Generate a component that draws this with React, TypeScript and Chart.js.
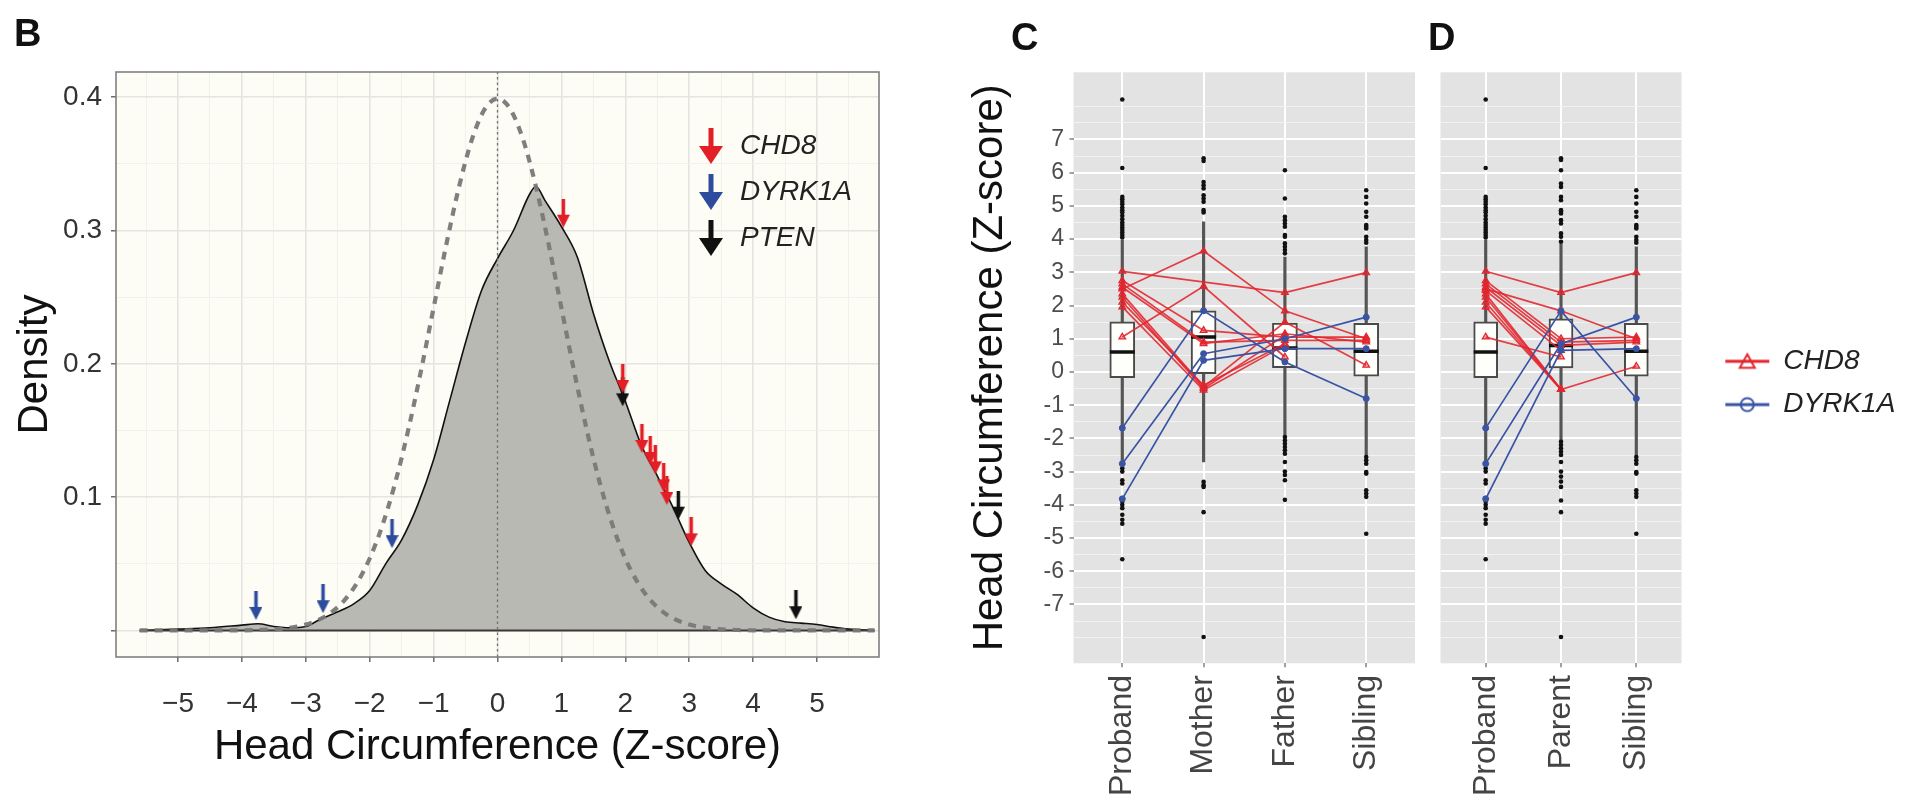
import React, { useEffect, useRef } from 'react';
import { Chart, registerables } from 'chart.js';

Chart.register(...registerables);

const FONT = "'Liberation Sans', Arial, Helvetica, sans-serif";

// ---------------- Panel B : density ----------------
const densityZ = [-5.6, -5.0, -4.5, -4.0, -3.75, -3.5, -3.25, -3.0, -2.75, -2.5, -2.25, -2.0, -1.75, -1.5, -1.25, -1.0, -0.75, -0.5, -0.25, 0, 0.25, 0.5, 0.6, 0.75, 1.0, 1.25, 1.5, 1.75, 2.0, 2.25, 2.5, 2.75, 3.0, 3.25, 3.5, 3.75, 4.0, 4.25, 4.5, 4.75, 5.0, 5.25, 5.5, 5.9];
const densityY = [0, 0.001, 0.002, 0.004, 0.005, 0.003, 0.002, 0.003, 0.009, 0.014, 0.020, 0.030, 0.050, 0.068, 0.094, 0.128, 0.172, 0.216, 0.255, 0.279, 0.300, 0.327, 0.333, 0.322, 0.303, 0.280, 0.238, 0.202, 0.172, 0.139, 0.116, 0.092, 0.066, 0.045, 0.035, 0.027, 0.017, 0.010, 0.0065, 0.0055, 0.0045, 0.0025, 0.001, 0];

const normalZ = [-5.6, -4.0, -3.8, -3.6, -3.4, -3.2, -3.0, -2.8, -2.6, -2.4, -2.2, -2.0, -1.8, -1.6, -1.4, -1.2, -1.0, -0.8, -0.6, -0.4, -0.2, 0, 0.2, 0.4, 0.6, 0.8, 1.0, 1.2, 1.4, 1.6, 1.8, 2.0, 2.2, 2.4, 2.6, 2.8, 3.0, 3.2, 3.4, 3.6, 3.8, 4.0, 5.9];
const normalY = [0, 0.0001, 0.0003, 0.0006, 0.0012, 0.0024, 0.0044, 0.0079, 0.0136, 0.0224, 0.0355, 0.0540, 0.0790, 0.1109, 0.1497, 0.1942, 0.2420, 0.2897, 0.3332, 0.3683, 0.3910, 0.3989, 0.3910, 0.3683, 0.3332, 0.2897, 0.2420, 0.1942, 0.1497, 0.1109, 0.0790, 0.0540, 0.0355, 0.0224, 0.0136, 0.0079, 0.0044, 0.0024, 0.0012, 0.0006, 0.0003, 0.0001, 0];

const chd8ArrowZ = [1.03, 1.96, 2.26, 2.39, 2.47, 2.60, 2.65, 3.03];
const chd8ArrowD = [0.313, 0.189, 0.144, 0.135, 0.128, 0.1145, 0.105, 0.074];
const dyrk1aArrowZ = [-3.78, -2.73, -1.65];
const dyrk1aArrowD = [0.0188, 0.0238, 0.0726];
const ptenArrowZ = [1.96, 2.83, 4.67];
const ptenArrowD = [0.179, 0.094, 0.0193];

const legendB = ['CHD8', 'DYRK1A', 'PTEN'];
const B_X_TICKS = [-5.5, -5, -4.5, -4, -3.5, -3, -2.5, -2, -1.5, -1, -0.5, 0, 0.5, 1, 1.5, 2, 2.5, 3, 3.5, 4, 4.5, 5, 5.5];
const B_Y_TICKS = [0, 0.05, 0.1, 0.15, 0.2, 0.25, 0.3, 0.35, 0.4];
const B_X_MIN = -5.97, B_X_MAX = 5.97;
const B_Y_MIN = -0.0199, B_Y_MAX = 0.4189;

// ---------------- Panels C / D : box plots ----------------
const catsC = ['Proband', 'Mother', 'Father', 'Sibling'];
const catsD = ['Proband', 'Parent', 'Sibling'];
// [whisker low, q1, median, q3, whisker high]
const boxProband = [-2.8, -0.17, 0.60, 1.51, 3.97];
const boxMother = [-2.71, -0.05, 1.05, 1.84, 4.52];
const boxFather = [-1.91, 0.13, 0.72, 1.47, 3.46];
const boxSibling = [-2.51, -0.13, 0.62, 1.46, 3.77];
const boxParent = [-2.06, 0.12, 0.80, 1.60, 3.85];

const outProband = [8.2, 6.14, 5.27, 5.2, 5.12, 5.05, 4.95, 4.87, 4.8, 4.7, 4.6, 4.5, 4.42, 4.35, 4.27, 4.2, 4.12, 4.05, -2.9, -3.0, -3.26, -3.36, -3.8, -3.9, -4.0, -4.1, -4.3, -4.45, -4.57, -5.64];
const outMother = [6.43, 6.35, 5.72, 5.62, 5.52, 5.32, 5.22, 5.12, 4.87, 4.8, -3.31, -3.41, -3.46, -4.22, -7.98];
const outFather = [6.07, 5.22, 4.67, 4.57, 4.47, 4.37, 4.12, 4.07, 3.87, 3.77, 3.67, 3.57, -1.96, -2.06, -2.16, -2.26, -2.36, -2.46, -2.71, -3.0, -3.1, -3.26, -3.85];
const outSibling = [5.47, 5.27, 5.07, 4.82, 4.67, 4.42, 4.37, 4.32, 4.07, 3.97, 3.89, -2.56, -2.66, -2.76, -3.01, -3.06, -3.56, -3.66, -3.76, -4.87];
const outParent = [6.43, 6.38, 6.07, 5.67, 5.57, 5.27, 5.17, 4.87, 4.82, 4.77, 4.57, 4.47, 4.17, 4.07, 3.92, -2.1, -2.2, -2.3, -2.4, -2.5, -2.71, -3.0, -3.15, -3.3, -3.46, -3.87, -4.22, -7.98];

// families: Proband, Mother, Father, Sibling (null = missing)
const chd8FamiliesC = [
  [3.03, null, 2.39, 2.99],
  [2.50, 3.64, 1.84, 1.00],
  [1.05, 2.58, 0.45, null],
  [2.75, 1.25, 1.05, 1.05],
  [2.65, 0.90, 0.95, 0.95],
  [2.55, 0.85, 1.15, 0.90],
  [2.35, -0.45, 1.50, 0.20],
  [2.25, -0.50, 1.10, null],
  [2.10, -0.40, 0.85, null],
  [1.96, -0.55, 0.80, null],
];
const dyrk1aFamiliesC = [
  [-1.69, 1.84, 0.30, -0.80],
  [-2.76, 0.55, 1.00, 1.65],
  [-3.82, 0.35, 0.70, 0.70],
];
// families: Proband, Parent, Sibling
const chd8FamiliesD = [
  [3.03, 2.39, 2.99],
  [2.50, 1.84, 1.00],
  [2.75, 1.00, 1.05],
  [2.65, 0.90, 0.95],
  [2.55, 0.80, 0.90],
  [1.05, 0.45, null],
  [2.45, 0.65, null],
  [2.35, -0.53, 0.17],
  [2.25, -0.53, null],
  [2.10, -0.53, null],
  [1.96, -0.53, null],
];
const dyrk1aFamiliesD = [
  [-1.69, 1.84, -0.80],
  [-2.76, 0.85, 1.65],
  [-3.82, 0.65, 0.70],
];

const legendCD = ['CHD8', 'DYRK1A'];
const C_Y_GRID = [-8, -7.5, -7, -6.5, -6, -5.5, -5, -4.5, -4, -3.5, -3, -2.5, -2, -1.5, -1, -0.5, 0, 0.5, 1, 1.5, 2, 2.5, 3, 3.5, 4, 4.5, 5, 5.5, 6, 6.5, 7, 7.5, 8];
const C_Y_LABELS = [-7, -6, -5, -4, -3, -2, -1, 0, 1, 2, 3, 4, 5, 6, 7];
const C_Y_MIN = -8.77, C_Y_MAX = 9.02;

// ---------------- styling ----------------
const RED = '#E3262E';
const RED_LINE = 'rgba(227, 38, 46, 0.88)';
const BLUE = '#3A54A4';
const ARROW_RED = '#E21F26';
const ARROW_BLUE = '#2E4C9D';
const ARROW_BLACK = '#111111';

const panelPlugin = {
  id: 'panelDeco',
  beforeDraw(chart: any, _a: any, opts: any) {
    if (!opts || !opts.bg) return;
    const { ctx, chartArea: a } = chart;
    ctx.save();
    ctx.fillStyle = opts.bg;
    ctx.fillRect(a.left, a.top, a.right - a.left, a.bottom - a.top);
    ctx.restore();
  },
  afterDraw(chart: any, _a: any, opts: any) {
    if (!opts || !opts.frame) return;
    const { ctx, chartArea: a } = chart;
    ctx.save();
    ctx.strokeStyle = opts.frame;
    ctx.lineWidth = opts.frameWidth || 1.5;
    ctx.strokeRect(a.left, a.top, a.right - a.left, a.bottom - a.top);
    ctx.restore();
  },
};

function makeArrow(color: string, w: number, h: number, shaftW: number, headH: number) {
  const c = document.createElement('canvas');
  c.width = w; c.height = h;
  const g = c.getContext('2d')!;
  g.fillStyle = color;
  g.fillRect(w / 2 - shaftW / 2, 0, shaftW, h - headH + 1);
  g.beginPath();
  g.moveTo(0, h - headH);
  g.lineTo(w, h - headH);
  g.lineTo(w / 2, h);
  g.closePath();
  g.fill();
  return c;
}

function makeKey(color: string, shape: 'triangle' | 'circle') {
  const c = document.createElement('canvas');
  c.width = 46; c.height = 20;
  const g = c.getContext('2d')!;
  g.strokeStyle = color;
  g.lineWidth = 3;
  g.beginPath(); g.moveTo(1, 10); g.lineTo(45, 10); g.stroke();
  g.lineWidth = 2;
  g.beginPath();
  if (shape === 'triangle') {
    g.moveTo(23, 3); g.lineTo(30.5, 16.5); g.lineTo(15.5, 16.5); g.closePath();
  } else {
    g.arc(23, 10, 6.5, 0, Math.PI * 2);
  }
  g.stroke();
  return c;
}

const isInt = (v: number) => Math.abs(v - Math.round(v)) < 1e-9;
const isTenth = (v: number) => Math.abs(v * 10 - Math.round(v * 10)) < 1e-9;

function configB(arrows: any[]) {
  const pts = (xs: number[], ys: number[]) => xs.map((x, i) => ({ x, y: ys[i] }));
  return {
    type: 'scatter',
    data: {
      datasets: [
        { type: 'scatter', data: pts(chd8ArrowZ, chd8ArrowD), pointStyle: arrows[0], pointRadius: 6, order: 0 },
        { type: 'scatter', data: pts(dyrk1aArrowZ, dyrk1aArrowD), pointStyle: arrows[1], pointRadius: 6, order: 0 },
        { type: 'scatter', data: pts(ptenArrowZ, ptenArrowD), pointStyle: arrows[2], pointRadius: 6, order: 1 },
        { type: 'line', showLine: true, data: [{ x: 0, y: B_Y_MIN }, { x: 0, y: B_Y_MAX }], borderColor: '#707070', borderWidth: 1.3, borderDash: [2.5, 3], pointRadius: 0, order: 2 },
        { type: 'line', showLine: true, data: pts(normalZ, normalY), borderColor: 'rgba(120,120,120,0.95)', borderWidth: 4.2, borderDash: [8, 7], cubicInterpolationMode: 'monotone', pointRadius: 0, fill: false, order: 3 },
        { type: 'line', showLine: true, data: [{ x: densityZ[0], y: 0 }, { x: densityZ[densityZ.length - 1], y: 0 }], borderColor: '#3a3a3a', borderWidth: 2, pointRadius: 0, order: 4 },
        { type: 'line', showLine: true, data: pts(densityZ, densityY), borderColor: '#111', borderWidth: 1.6, backgroundColor: '#B8B9B3', fill: 'origin', cubicInterpolationMode: 'monotone', pointRadius: 0, order: 5 },
      ],
    },
    options: {
      responsive: false, animation: false, devicePixelRatio: 1,
      layout: { padding: { left: 14, right: 21, top: 0, bottom: 0 } },
      plugins: {
        legend: { display: false }, tooltip: { enabled: false },
        title: { display: true, text: 'B', align: 'start', color: '#111', font: { family: FONT, size: 38, weight: 'bold' }, padding: { top: 13, bottom: 13.4 } },
        panelDeco: { bg: '#FDFDF6', frame: '#808080', frameWidth: 1.6 },
      },
      scales: {
        x: {
          type: 'linear', min: B_X_MIN, max: B_X_MAX,
          afterBuildTicks: (s: any) => { s.ticks = B_X_TICKS.map((v) => ({ value: v })); },
          afterFit: (s: any) => { s.height = 145; s.paddingLeft = 0; s.paddingRight = 0; },
          ticks: {
            autoSkip: false, minRotation: 0, maxRotation: 0, padding: 25, color: '#333',
            font: { family: FONT, size: 28 },
            callback: (v: number) => (isInt(v) ? (v < 0 ? '\u2212' + Math.abs(v) : String(v)) : ''),
          },
          grid: {
            color: (c: any) => (c.tick && isInt(c.tick.value) ? '#E4E4E2' : '#F1F1EC'),
            lineWidth: (c: any) => (c.tick && isInt(c.tick.value) ? 1.6 : 0.9),
            tickColor: (c: any) => (c.tick && isInt(c.tick.value) ? '#555' : 'rgba(0,0,0,0)'),
            tickWidth: 1.3, tickLength: 5,
          },
          border: { display: false },
          title: { display: true, text: 'Head Circumference (Z-score)', color: '#111', font: { family: FONT, size: 42 }, padding: { top: 0, bottom: 29 } },
        },
        y: {
          type: 'linear', min: B_Y_MIN, max: B_Y_MAX,
          afterBuildTicks: (s: any) => { s.ticks = B_Y_TICKS.map((v) => ({ value: v })); },
          afterFit: (s: any) => { s.width = 102; s.paddingTop = 0; s.paddingBottom = 0; },
          ticks: {
            autoSkip: false, padding: 9, color: '#333', font: { family: FONT, size: 28 },
            callback: (v: number) => (isTenth(v) && v > 0.05 ? v.toFixed(1) : ''),
          },
          grid: {
            color: (c: any) => (c.tick && isTenth(c.tick.value) ? '#E4E4E2' : '#F1F1EC'),
            lineWidth: (c: any) => (c.tick && isTenth(c.tick.value) ? 1.6 : 0.9),
            tickColor: (c: any) => (c.tick && isTenth(c.tick.value) ? '#555' : 'rgba(0,0,0,0)'),
            tickWidth: 1.3, tickLength: 5,
          },
          border: { display: false },
          title: { display: true, text: 'Density', color: '#111', font: { family: FONT, size: 42 }, padding: { top: -4, bottom: 0 } },
        },
      },
    },
    plugins: [panelPlugin],
  };
}

function boxDatasets(boxes: number[][], outliers: number[][], chd8: (number | null)[][], dyrk: (number | null)[][], boxW: number) {
  const ds: any[] = [];
  ds.push({ type: 'bar', data: boxes.map((b, i) => ({ x: i, y: [b[0], b[4]] })), backgroundColor: '#555555', barThickness: 2.5, grouped: false, order: 6 });
  ds.push({ type: 'bar', data: boxes.map((b, i) => ({ x: i, y: [b[1], b[3]] })), backgroundColor: '#FEFEFB', borderColor: '#4A4A4A', borderWidth: 2, borderSkipped: false, barThickness: boxW, grouped: false, order: 5 });
  ds.push({ type: 'scatter', data: boxes.map((b, i) => ({ x: i, y: b[2] })), pointStyle: 'line', pointRadius: boxW / 2, pointBorderWidth: 3.5, pointBorderColor: '#111', order: 4 });
  ds.push({ type: 'scatter', data: outliers.flatMap((arr, i) => arr.map((v) => ({ x: i, y: v }))), pointStyle: 'circle', pointRadius: 2.3, pointBackgroundColor: '#111', pointBorderWidth: 0, order: 3 });
  const fam = (f: (number | null)[]) => f.map((v, i) => (v === null ? null : { x: i, y: v })).filter((p) => p !== null);
  chd8.forEach((f) => ds.push({
    type: 'line', showLine: true, data: fam(f), borderColor: RED_LINE, borderWidth: 1.7, tension: 0, fill: false,
    pointStyle: 'triangle', pointRadius: 3.8, pointBackgroundColor: 'rgba(227,38,46,0.35)', pointBorderColor: RED, pointBorderWidth: 1.3, order: 2,
  }));
  dyrk.forEach((f) => ds.push({
    type: 'line', showLine: true, data: fam(f), borderColor: BLUE, borderWidth: 1.7, tension: 0, fill: false,
    pointStyle: 'circle', pointRadius: 3, pointBackgroundColor: BLUE, pointBorderColor: BLUE, pointBorderWidth: 1, order: 1,
  }));
  return ds;
}

function configBox(letter: string, cats: string[], datasets: any[], showY: boolean, padLeft: number, yWidth: number) {
  const major = (c: any) => c.tick && C_Y_LABELS.includes(c.tick.value);
  return {
    type: 'scatter',
    data: { datasets },
    options: {
      responsive: false, animation: false, devicePixelRatio: 1,
      layout: { padding: { left: padLeft, right: 3.7, top: 0, bottom: 0 } },
      plugins: {
        legend: { display: false }, tooltip: { enabled: false },
        title: { display: true, text: letter, align: 'start', color: '#111', font: { family: FONT, size: 38, weight: 'bold' }, padding: { top: 17, bottom: 9.7 } },
        panelDeco: { bg: '#E3E3E3' },
      },
      scales: {
        x: {
          type: 'linear', min: -0.6, max: cats.length - 0.4, offset: false,
          afterBuildTicks: (s: any) => { s.ticks = cats.map((_, i) => ({ value: i })); },
          afterFit: (s: any) => { s.height = 138.7; s.paddingLeft = 0; s.paddingRight = 0; },
          ticks: {
            autoSkip: false, minRotation: 90, maxRotation: 90, padding: 7.7, color: '#444',
            font: { family: FONT, size: 32 },
            callback: (v: number) => cats[v] ?? '',
          },
          grid: { color: '#FFFFFF', lineWidth: 2, tickColor: '#444', tickWidth: 1, tickLength: 4, offset: false },
          border: { display: false },
        },
        y: {
          type: 'linear', min: C_Y_MIN, max: C_Y_MAX,
          afterBuildTicks: (s: any) => { s.ticks = C_Y_GRID.map((v) => ({ value: v })); },
          afterFit: (s: any) => { s.width = yWidth; s.paddingTop = 0; s.paddingBottom = 0; },
          ticks: {
            display: showY, autoSkip: false, padding: 5.5, color: '#4D4D4D', font: { family: FONT, size: 23 },
            callback: (v: number) => (C_Y_LABELS.includes(v) ? String(v) : ''),
          },
          grid: {
            color: (c: any) => (major(c) ? '#FFFFFF' : '#F2F2F2'),
            lineWidth: (c: any) => (major(c) ? 2 : 1),
            tickColor: (c: any) => (showY && major(c) ? '#444' : 'rgba(0,0,0,0)'),
            tickWidth: 1, tickLength: 4, drawTicks: showY,
          },
          border: { display: false },
          title: { display: showY, text: 'Head Circumference (Z-score)', color: '#111', font: { family: FONT, size: 42 }, padding: { top: -46, bottom: 0 } },
        },
      },
    },
    plugins: [panelPlugin],
  };
}

function configLegend(items: string[], imgs: HTMLCanvasElement[], pad: number, keyW: number) {
  return {
    type: 'scatter',
    data: { datasets: [] },
    options: {
      responsive: false, animation: false, devicePixelRatio: 1,
      layout: { padding: 0 },
      scales: { x: { display: false }, y: { display: false } },
      plugins: {
        tooltip: { enabled: false },
        legend: {
          display: true, position: 'left', align: 'start',
          labels: {
            usePointStyle: true, pointStyleWidth: keyW, padding: pad, color: '#222',
            font: { family: FONT, size: 28, style: 'italic' },
            generateLabels: () => items.map((t, i) => ({
              text: t, pointStyle: imgs[i], fillStyle: 'rgba(0,0,0,0)', strokeStyle: 'rgba(0,0,0,0)',
              lineWidth: 0, hidden: false, fontColor: '#222', datasetIndex: i,
            })),
          },
        },
      },
    },
  };
}

export default function App() {
  const bRef = useRef<HTMLCanvasElement>(null);
  const bLegRef = useRef<HTMLCanvasElement>(null);
  const cRef = useRef<HTMLCanvasElement>(null);
  const dRef = useRef<HTMLCanvasElement>(null);
  const cdLegRef = useRef<HTMLCanvasElement>(null);

  useEffect(() => {
    const plotArrows = [
      makeArrow(ARROW_RED, 13, 29, 3.5, 13),
      makeArrow(ARROW_BLUE, 13, 29, 3.5, 13),
      makeArrow(ARROW_BLACK, 13, 29, 3.5, 13),
    ];
    const legArrows = [
      makeArrow(ARROW_RED, 24, 36, 5, 18),
      makeArrow(ARROW_BLUE, 24, 36, 5, 18),
      makeArrow(ARROW_BLACK, 24, 36, 5, 18),
    ];
    const keys = [makeKey(RED, 'triangle'), makeKey(BLUE, 'circle')];

    const charts: Chart[] = [];
    charts.push(new Chart(bRef.current as any, configB(plotArrows) as any));
    charts.push(new Chart(cRef.current as any, configBox('C', catsC,
      boxDatasets([boxProband, boxMother, boxFather, boxSibling], [outProband, outMother, outFather, outSibling], chd8FamiliesC, dyrk1aFamiliesC, 25),
      true, 71, 62.5) as any));
    charts.push(new Chart(dRef.current as any, configBox('D', catsD,
      boxDatasets([boxProband, boxParent, boxSibling], [outProband, outParent, outSibling], chd8FamiliesD, dyrk1aFamiliesD, 24),
      false, 3, 8) as any));
    charts.push(new Chart(bLegRef.current as any, configLegend(legendB, legArrows, 18, 30) as any));
    charts.push(new Chart(cdLegRef.current as any, configLegend(legendCD, keys, 15.3, 44) as any));
    return () => charts.forEach((c) => c.destroy());
  }, []);

  const abs = (left: number, top: number, w: number, h: number): React.CSSProperties => ({ position: 'absolute', left, top, width: w, height: h });

  return (
    <div style={{ position: 'fixed', left: 0, top: 0, width: 1914, height: 802, overflow: 'hidden', background: '#FFFFFF' }}>
      <canvas ref={bRef} width={900} height={802} style={abs(0, 0, 900, 802)} />
      <canvas ref={cRef} width={491} height={802} style={abs(940, 0, 491, 802)} />
      <canvas ref={dRef} width={272} height={802} style={abs(1425, 0, 272, 802)} />
      <canvas ref={bLegRef} width={640} height={200} style={abs(678, 114, 640, 200)} />
      <canvas ref={cdLegRef} width={420} height={140} style={abs(1710, 332, 420, 140)} />
    </div>
  );
}
